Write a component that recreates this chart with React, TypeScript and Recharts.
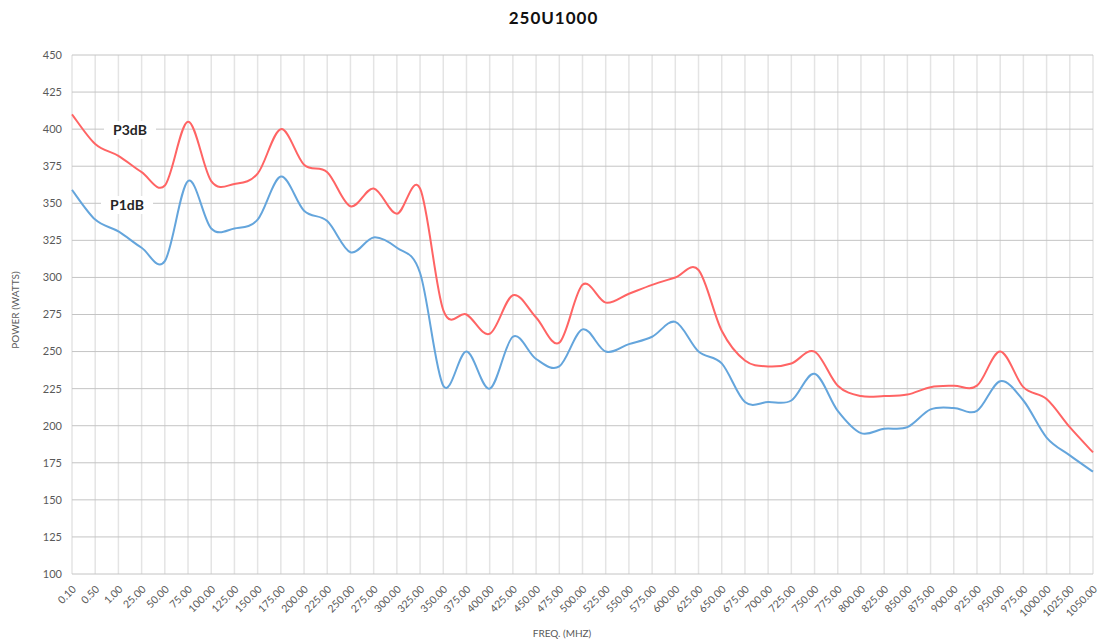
import React from 'react';
import { LineChart, Line, XAxis, YAxis, CartesianGrid } from 'recharts';

const freqs = [
  '0.10', '0.50', '1.00', '25.00', '50.00', '75.00', '100.00', '125.00', '150.00', '175.00',
  '200.00', '225.00', '250.00', '275.00', '300.00', '325.00', '350.00', '375.00', '400.00', '425.00',
  '450.00', '475.00', '500.00', '525.00', '550.00', '575.00', '600.00', '625.00', '650.00', '675.00',
  '700.00', '725.00', '750.00', '775.00', '800.00', '825.00', '850.00', '875.00', '900.00', '925.00',
  '950.00', '975.00', '1000.00', '1025.00', '1050.00',
];

const p3db = [
  410, 390, 382, 371, 362, 405, 365, 363, 370, 400,
  376, 371, 348, 360, 343, 360, 278, 275, 262, 288,
  273, 256, 295, 283, 289, 295, 300, 305, 264, 244,
  240, 242, 250, 227, 220, 220, 221, 226, 227, 227,
  250, 226, 218, 199, 182,
];

const p1db = [
  359, 339, 331, 320, 311, 365, 333, 333, 339, 368,
  345, 338, 317, 327, 320, 303, 227, 250, 225, 260,
  245, 240, 265, 250, 255, 260, 270, 250, 242, 216,
  216, 217, 235, 210, 195, 198, 199, 211, 212, 210,
  230, 217, 192, 180, 169,
];

const yTicks = [100, 125, 150, 175, 200, 225, 250, 275, 300, 325, 350, 375, 400, 425, 450];

const data = freqs.map((f, i) => ({ freq: f, p3: p3db[i], p1: p1db[i] }));

// catmull-rom style smoothing, close to what Excel does for "smoothed line"
const smooth: any = (ctx: any) => {
  let pts: number[][] = [];
  return {
    areaStart() {},
    areaEnd() {},
    lineStart() { pts = []; },
    point(x: number, y: number) { pts.push([+x, +y]); },
    lineEnd() {
      if (!pts.length) return;
      ctx.moveTo(pts[0][0], pts[0][1]);
      const t = 1 / 6;
      for (let i = 0; i < pts.length - 1; i++) {
        const p0 = pts[Math.max(0, i - 1)];
        const p1 = pts[i];
        const p2 = pts[i + 1];
        const p3 = pts[Math.min(pts.length - 1, i + 2)];
        ctx.bezierCurveTo(
          p1[0] + (p2[0] - p0[0]) * t, p1[1] + (p2[1] - p0[1]) * t,
          p2[0] - (p3[0] - p1[0]) * t, p2[1] - (p3[1] - p1[1]) * t,
          p2[0], p2[1]
        );
      }
    },
  };
};

const FONT = 'Lato, "Open Sans", sans-serif';

const XTick = (props: any) => {
  const { x, y, payload } = props;
  return (
    <g transform={`translate(${x + 3},${y + 6})`}>
      <text x={0} y={0} textAnchor="end" dominantBaseline="middle" transform="rotate(-45)" fontSize={10.5} fill="#595959" fontFamily={FONT}>
        {payload.value}
      </text>
    </g>
  );
};

const tagStyle: React.CSSProperties = {
  position: 'absolute',
  background: '#fff',
  fontFamily: FONT,
  fontWeight: 700,
  fontSize: 14,
  color: '#262626',
  padding: '1px 9px',
  lineHeight: '16px',
};

export default function App() {
  return (
    <div style={{ position: 'absolute', left: 0, top: 0, width: 1107, height: 640, background: '#fff' }}>
      <LineChart width={1107} height={640} data={data} margin={{ top: 55, right: 14, left: 0, bottom: 0 }}>
        <CartesianGrid horizontal={false} stroke="#e4e4e4" strokeWidth={1.5} />
        <CartesianGrid vertical={false} stroke="#c4c4c4" />
        <XAxis
          dataKey="freq"
          interval={0}
          tickLine={false}
          axisLine={false}
          height={66}
          tick={<XTick />}
        />
        <YAxis
          domain={[100, 450]}
          ticks={yTicks}
          width={72}
          tickLine={false}
          axisLine={false}
          tickMargin={4}
          tick={{ fontSize: 11, fill: '#595959', fontFamily: FONT }}
        />
        <Line dataKey="p3" type={smooth} stroke="#ff6464" strokeWidth={2} dot={false} isAnimationActive={false} />
        <Line dataKey="p1" type={smooth} stroke="#64a5dc" strokeWidth={2} dot={false} isAnimationActive={false} />
      </LineChart>
      <div style={{ position: 'absolute', left: 0, width: 1107, top: 7, textAlign: 'center', fontFamily: FONT, fontWeight: 700, fontSize: 17, letterSpacing: 1, color: '#111' }}>
        250U1000
      </div>
      <div style={{ ...tagStyle, left: 104, top: 121 }}>P3dB</div>
      <div style={{ ...tagStyle, left: 101, top: 196 }}>P1dB</div>
      <div style={{ position: 'absolute', left: 15, top: 310, transform: 'translate(-50%,-50%) rotate(-90deg)', whiteSpace: 'nowrap', fontFamily: FONT, fontSize: 10, color: '#595959' }}>
        POWER (WATTS)
      </div>
      <div style={{ position: 'absolute', left: 562, top: 633, transform: 'translate(-50%,-50%)', whiteSpace: 'nowrap', fontFamily: FONT, fontSize: 10, color: '#595959' }}>
        FREQ. (MHZ)
      </div>
    </div>
  );
}
